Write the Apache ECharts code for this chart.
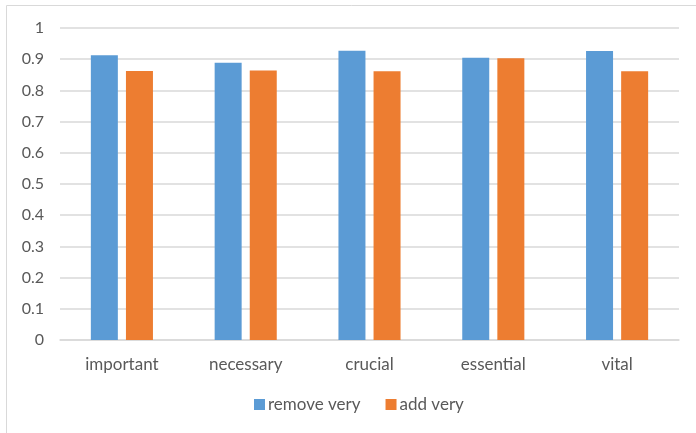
<!DOCTYPE html>
<html lang="en">
<head>
	<meta charset="UTF-8">
	<title>remove very / add very</title>
	<style type="text/css">
		html, body { margin: 0; padding: 0; background: #fff; }
		#main { width: 696px; height: 433px; }
	</style>
</head>
<body>
	<div id="main"></div>
	<script type="text/javascript" src="https://cdn.jsdelivr.net/npm/echarts@6/dist/echarts.min.js"></script>
	<script type="text/javascript">
		var categories = ['important', 'necessary', 'crucial', 'essential', 'vital'];
		var removeVery = [0.913, 0.889, 0.927, 0.905, 0.926];
		var addVery = [0.862, 0.864, 0.861, 0.903, 0.861];
		var seriesNames = ['remove very', 'add very'];

		var FONT = 'Lato';
		var TEXT_COLOR = '#595959';

		var chart = echarts.init(document.getElementById('main'));
		var option = {
			animation: false,
			textStyle: { fontFamily: FONT },
			graphic: [
				// chart area border (only top & left visible in the reference)
				{ type: 'line', shape: { x1: 6.5, y1: 5.5, x2: 696, y2: 5.5 }, style: { stroke: '#d9d9d9', lineWidth: 1 } },
				{ type: 'line', shape: { x1: 6.5, y1: 5.5, x2: 6.5, y2: 433 }, style: { stroke: '#d9d9d9', lineWidth: 1 } }
			],
			legend: {
				data: seriesNames,
				bottom: 15,
				left: 249,
				itemWidth: 11,
				itemHeight: 11,
				itemGap: 25,
				icon: 'rect',
				textStyle: { color: TEXT_COLOR, fontSize: 17, fontFamily: FONT, padding: [0, 0, 0, -2] }
			},
			grid: {
				left: 60,
				right: 17,
				top: 28,
				bottom: 93
			},
			xAxis: {
				type: 'category',
				data: categories,
				axisLine: { lineStyle: { color: '#d9d9d9', width: 1.5 } },
				axisTick: { show: false },
				axisLabel: { color: TEXT_COLOR, fontSize: 17, fontFamily: FONT, margin: 16 }
			},
			yAxis: {
				type: 'value',
				min: 0,
				max: 1,
				interval: 0.1,
				axisLine: { show: false },
				axisTick: { show: false },
				splitLine: { lineStyle: { color: '#d9d9d9', width: 1.5 } },
				axisLabel: {
					color: TEXT_COLOR,
					fontSize: 16,
					fontFamily: FONT,
					margin: 16,
					formatter: function (v) { return String(Math.round(v * 10) / 10); }
				}
			},
			series: [
				{
					name: seriesNames[0],
					type: 'bar',
					data: removeVery,
					barWidth: 27,
					barGap: '30%',
					itemStyle: { color: '#5b9bd5' }
				},
				{
					name: seriesNames[1],
					type: 'bar',
					data: addVery,
					barWidth: 27,
					barGap: '30%',
					itemStyle: { color: '#ed7d31' }
				}
			]
		};
		chart.setOption(option);
	</script>
</body>
</html>
